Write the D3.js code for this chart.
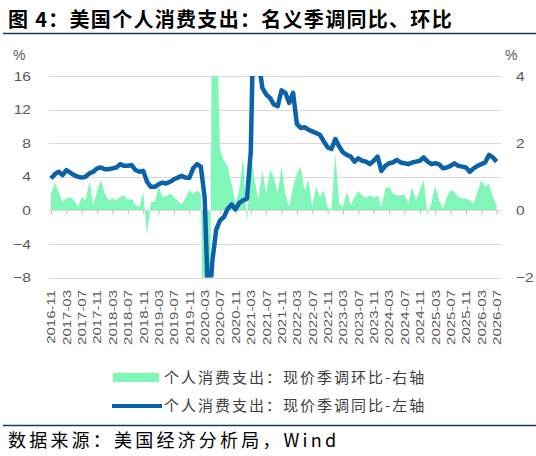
<!DOCTYPE html>
<html>
<head>
<meta charset="utf-8">
<script src="https://cdn.jsdelivr.net/npm/d3@7"></script>
<style>
	body { margin: 0; background: #fff; }
	svg { display: block; }
</style>
</head>
<body>
<script>
// Monthly categories, 2016-11 .. 2026-07
const months = d3.timeMonth.range(new Date(2016, 10, 1), new Date(2026, 7, 1))
	.map(d3.timeFormat('%Y-%m'));

const tickLabels = ['2016-11','2017-03','2017-07','2017-11','2018-03','2018-07','2018-11',
	'2019-03','2019-07','2019-11','2020-03','2020-07','2020-11','2021-03','2021-07','2021-11',
	'2022-03','2022-07','2022-11','2023-03','2023-07','2023-11','2024-03','2024-07','2024-11',
	'2025-03','2025-07','2025-11','2026-03','2026-07'];

const leftTicks = [-8, -4, 0, 4, 8, 12, 16];
const rightTicks = [-2, 0, 2, 4];

// 个人消费支出：现价季调同比 (%), left axis
const yoy = [
	3.8, 4.3, 4.6, 4.2, 4.8, 4.5, 4.2, 4.0, 3.9, 4.0,
	4.4, 4.6, 5.0, 5.1, 4.9, 4.9, 5.0, 5.1, 5.5, 5.3,
	5.3, 5.4, 4.8, 4.6, 4.7, 3.4, 2.8, 2.8, 3.1, 3.3,
	3.2, 3.4, 3.7, 3.9, 4.1, 3.9, 3.85, 5.0, 5.5, 5.2,
	1.5, -12.5, -6.0, -2.3, -1.2, -0.8, 0.2, 0.7, 0.1, 0.9,
	1.2, 1.4, 7.0, 29.5, 18.0, 14.6, 13.8, 13.4, 12.6, 12.4,
	14.3, 14.0, 12.8, 14.0, 10.3, 9.8, 9.9, 9.6, 9.4, 9.2,
	9.0, 8.2, 7.5, 7.3, 8.5, 7.6, 6.9, 6.6, 6.4, 5.8,
	6.2, 5.9, 5.8, 5.5, 5.9, 6.4, 4.7, 5.3, 5.6, 5.7,
	6.0, 5.7, 5.6, 5.5, 5.7, 5.8, 5.9, 6.3, 5.8, 5.5,
	5.6, 5.5, 5.0, 5.1, 5.3, 5.6, 5.3, 5.2, 5.1, 4.6,
	5.0, 5.3, 5.5, 5.7, 6.6, 6.3, 5.8
];

// 个人消费支出：现价季调环比 (%), right axis
const mom = [
	0.50, 0.82, 0.55, 0.25, 0.35, 0.40, 0.30, 0.10, 0.40, 0.30,
	0.85, 0.15, 0.60, 0.90, 0.50, 0.30, 0.35, 0.30, 0.40, 0.45,
	0.30, 0.35, 0.15, 0.10, 0.55, -0.75, 0.25, 0.25, 0.70, 0.40,
	0.42, 0.50, 0.40, 0.28, 0.18, 0.35, 0.62, 0.47, 0.60, 0.50,
	-6.8, -12.4, 8.6, 6.3, 1.8, 1.5, 1.3, 0.8, 0.2, 0.6,
	1.6, -0.4, 1.6, 0.9, 0.3, 1.2, 0.5, 1.2, 1.0, 0.5,
	1.3, 0.5, 0.1, 0.7, 1.1, 1.3, 0.6, 0.9, 0.1, 0.7,
	0.4, 0.6, 0.1, 0.0, 1.7, 0.2, 0.1, 0.55, 0.15, 0.4,
	0.57, 0.45, 0.37, 0.45, 0.37, 0.45, 0.1, 0.65, 0.7, 0.5,
	0.45, 0.45, 0.47, 0.2, 0.7, 0.3, 0.6, 0.9, -0.15, 0.2,
	0.75, 0.3, 0.05, 0.4, 0.6, 0.55, 0.4, 0.35, 0.35, 0.3,
	0.2, 0.55, 0.9, 0.7, 0.8, 0.4, 0.15
];

const seriesNames = ['个人消费支出：现价季调环比-右轴', '个人消费支出：现价季调同比-左轴'];
const titleText = '图 4：美国个人消费支出：名义季调同比、环比';
const sourceText = '数据来源：美国经济分析局，Wind';

const W = 536, H = 456;
const plot = { left: 49, right: 501, top: 76, bottom: 277.5 };
const green = '#80f6b8', blue = '#0b62a8', gridColor = '#d9d9d9', textColor = '#595959';
const cjk = '"Noto Sans CJK SC", sans-serif';
const latin = '"Liberation Sans", Arial, sans-serif';

const svg = d3.select('body').append('svg')
	.attr('width', W)
	.attr('height', H);

// Title and rules
svg.append('text')
	.attr('x', 8).attr('y', 27)
	.style('font-family', cjk).style('font-size', '20px').style('font-weight', 'bold')
	.style('letter-spacing', '1.3px')
	.text(titleText);

svg.append('line')
	.attr('x1', 3).attr('x2', W).attr('y1', 33.5).attr('y2', 33.5)
	.attr('stroke', '#1f3a57').attr('stroke-width', 1.5);

svg.append('line')
	.attr('x1', 3).attr('x2', W).attr('y1', 425.5).attr('y2', 425.5)
	.attr('stroke', '#1f3a57').attr('stroke-width', 1.5);

svg.append('text')
	.attr('x', 8).attr('y', 447)
	.style('font-family', cjk).style('font-size', '18px')
	.style('letter-spacing', '3.2px')
	.text(sourceText);

// Scales
const x = d3.scalePoint().domain(months).range([51, 496.7]);
const yL = d3.scaleLinear().domain([-8, 16]).range([plot.bottom, plot.top]);
const yR = d3.scaleLinear().domain([-2, 4]).range([plot.bottom, plot.top]);

svg.append('clipPath').attr('id', 'plotClip')
	.append('rect')
	.attr('x', plot.left).attr('y', plot.top)
	.attr('width', plot.right - plot.left).attr('height', plot.bottom - plot.top);

// Gridlines
svg.append('g').selectAll('line')
	.data(leftTicks)
	.enter().append('line')
	.attr('x1', plot.left).attr('x2', plot.right)
	.attr('y1', d => Math.round(yL(d)) + 0.5).attr('y2', d => Math.round(yL(d)) + 0.5)
	.attr('stroke', gridColor).attr('stroke-width', 1);

// MoM area (right axis)
const area = d3.area()
	.x((d, i) => x(months[i]))
	.y0(yR(0))
	.y1(d => yR(d));

svg.append('path')
	.datum(mom)
	.attr('clip-path', 'url(#plotClip)')
	.attr('fill', green)
	.attr('d', area);

// Category axis at zero with tick marks
const zeroAxis = svg.append('g')
	.attr('transform', `translate(0, ${Math.round(yL(0)) + 0.5})`)
	.call(d3.axisBottom(x).tickValues(tickLabels).tickSize(4).tickSizeOuter(0).tickFormat(''));
zeroAxis.select('.domain').attr('stroke', gridColor).attr('d', `M${plot.left},0H${plot.right}`);
zeroAxis.selectAll('.tick line').attr('stroke', '#bfbfbf');

// YoY line (left axis)
const line = d3.line()
	.x((d, i) => x(months[i]))
	.y(d => yL(d));

svg.append('path')
	.datum(yoy)
	.attr('clip-path', 'url(#plotClip)')
	.attr('fill', 'none')
	.attr('stroke', blue)
	.attr('stroke-width', 4.5)
	.attr('stroke-linejoin', 'round')
	.attr('d', line);

// Date labels at the bottom, rotated
const labelAxis = svg.append('g')
	.attr('transform', 'translate(0, 290)')
	.call(d3.axisBottom(x).tickValues(tickLabels).tickSize(0));
labelAxis.select('.domain').remove();
labelAxis.selectAll('text')
	.attr('x', 0).attr('y', 0).attr('dy', '0.35em')
	.attr('transform', 'rotate(-90) scale(1.36,1)')
	.style('text-anchor', 'end')
	.style('font-family', latin).style('font-size', '11px')
	.attr('fill', textColor);

// Left axis labels
const leftAxis = svg.append('g')
	.attr('transform', `translate(${plot.left}, 0)`)
	.call(d3.axisLeft(yL).tickValues(leftTicks).tickSize(0).tickFormat(d3.format('d')));
leftAxis.select('.domain').remove();
leftAxis.selectAll('text')
	.attr('x', -18 / 1.2)
	.attr('transform', 'scale(1.2,1)')
	.style('font-family', latin).style('font-size', '13px')
	.attr('fill', textColor);

// Right axis labels
const rightAxis = svg.append('g')
	.attr('transform', `translate(${plot.right}, 0)`)
	.call(d3.axisRight(yR).tickValues(rightTicks).tickSize(0).tickFormat(d3.format('d')));
rightAxis.select('.domain').remove();
rightAxis.selectAll('text')
	.attr('x', 15 / 1.2)
	.attr('transform', 'scale(1.2,1)')
	.style('font-family', latin).style('font-size', '13px')
	.attr('fill', textColor);

// Unit labels
svg.append('text').attr('x', 13).attr('y', 60)
	.style('font-family', latin).style('font-size', '14px').attr('fill', textColor)
	.text('%');
svg.append('text').attr('x', 505).attr('y', 60)
	.style('font-family', latin).style('font-size', '14px').attr('fill', textColor)
	.text('%');

// Legend
const legend = svg.append('g');
legend.append('rect')
	.attr('x', 113).attr('y', 373).attr('width', 46).attr('height', 9)
	.attr('fill', green);
legend.append('line')
	.attr('x1', 112).attr('x2', 162).attr('y1', 406).attr('y2', 406)
	.attr('stroke', blue).attr('stroke-width', 4);
legend.selectAll('.legend-label')
	.data(seriesNames)
	.enter().append('text')
	.attr('class', 'legend-label')
	.attr('x', 164)
	.attr('y', (d, i) => 378 + i * 28)
	.attr('dy', '0.35em')
	.style('font-family', cjk).style('font-size', '15px')
	.style('letter-spacing', '2px')
	.attr('fill', '#404040')
	.text(d => d);
</script>
</body>
</html>
